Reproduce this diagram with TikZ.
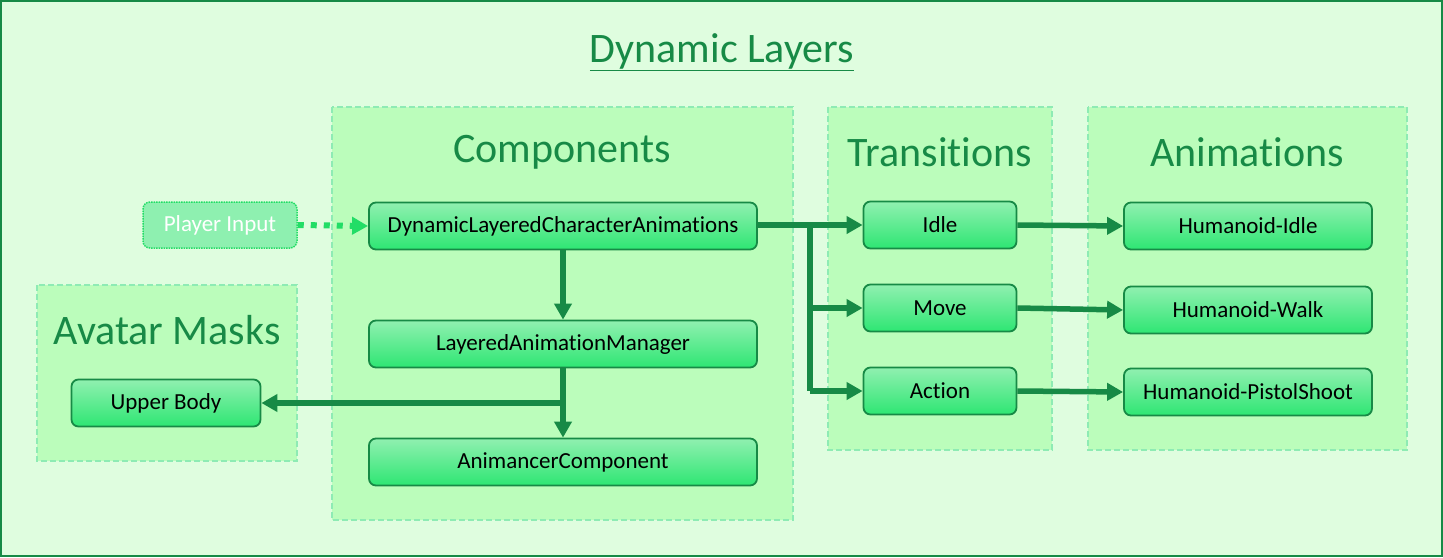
\documentclass[tikz,border=0pt]{standalone}
\usepackage{fontspec}
\setmainfont[Ligatures=NoCommon]{Carlito}
\usetikzlibrary{arrows.meta,calc}
\definecolor{dkgreen}{HTML}{178A46}
\definecolor{bgout}{HTML}{DFFDDF}
\definecolor{grpfill}{HTML}{BBFDBB}
\definecolor{grpline}{HTML}{8EEBB4}
\definecolor{nodetop}{HTML}{90F0B0}
\definecolor{nodebot}{HTML}{2EE673}
\definecolor{inputfill}{HTML}{8EF0B0}
\definecolor{inputline}{HTML}{22DD66}
\tikzset{
  grp/.style={fill=grpfill, draw=grpline, line width=1.6pt, dash pattern=on 6pt off 3pt},
  grptitle/.style={text=dkgreen, font=\fontsize{42}{46}\selectfont, inner sep=0pt},
  box/.style={rounded corners=7pt, draw=dkgreen, line width=1.8pt, top color=nodetop, bottom color=nodebot,
     minimum height=47pt, inner sep=0pt, font=\fontsize{23}{26}\selectfont, text=black},
  conn/.style={draw=dkgreen, line width=5.5pt, -{Triangle[length=16pt,width=17pt]}},
  seg/.style={draw=dkgreen, line width=5.5pt},
}
\begin{document}
\begin{tikzpicture}[x=1pt,y=-1pt]
\useasboundingbox (0,0) rectangle (1443,557);
\draw[fill=bgout, draw=dkgreen, line width=2pt] (1,1) rectangle (1442,556);
\node[text=dkgreen, font=\fontsize{42}{46}\selectfont, inner sep=0pt] (title) at (722,52) {\underline{Dynamic Layers}};
% groups
\draw[grp] (332,107) rectangle (793,520);
\draw[grp] (828,107) rectangle (1052,450);
\draw[grp] (1088,107) rectangle (1407,450);
\draw[grp] (37,285) rectangle (297,461);
\node[grptitle] (gcomp) at (562,152) {Components};
\node[grptitle] (gtrans) at (940,152) {Transitions};
\node[grptitle] (ganim) at (1247,152) {Animations};
\node[grptitle] (gmask) at (167,330) {Avatar Masks};
% nodes
\node[box, minimum width=388pt] (dlca) at (563,226) {DynamicLayeredCharacterAnimations};
\node[box, minimum width=388pt] (lam) at (563,344) {LayeredAnimationManager};
\node[box, minimum width=388pt] (anim) at (563,462) {AnimancerComponent};
\node[box, minimum width=189pt] (upper) at (166,403) {Upper Body};
\node[box, minimum width=153pt] (idle) at (940,225) {Idle};
\node[box, minimum width=153pt] (move) at (940,308) {Move};
\node[box, minimum width=153pt] (action) at (940,391) {Action};
\node[box, minimum width=248pt] (hidle) at (1248,226) {Humanoid-Idle};
\node[box, minimum width=248pt] (hwalk) at (1248,310) {Humanoid-Walk};
\node[box, minimum width=248pt] (hshoot) at (1248,392) {Humanoid-PistolShoot};
\node[rounded corners=7pt, draw=inputline, line width=1.5pt, densely dotted, fill=inputfill,
  minimum width=154pt, minimum height=46pt, inner sep=0pt, text=white, font=\fontsize{23}{26}\selectfont]
  (input) at (220,225) {Player Input};
% connectors
\coordinate (br) at (810,225);
\draw[draw=inputline, line width=6pt, dash pattern=on 6pt off 7pt, -{Triangle[length=16pt,width=17pt]}] (input.east) -- (dlca.west);
\draw[conn] (dlca.east |- idle.west) -- (idle.west);
\draw[seg] (br) -- (br |- action.west);
\draw[conn] (br |- move.west) -- (move.west);
\draw[conn] (br |- action.west) -- (action.west);
\draw[conn] (dlca.south) -- (lam.north);
\draw[conn] (lam.south) -- (anim.north);
\draw[conn] (lam.south |- upper.east) -- (upper.east);
\draw[conn] (idle.east) -- (hidle.west);
\draw[conn] (move.east) -- (hwalk.west);
\draw[conn] (action.east) -- (hshoot.west);
\end{tikzpicture}
\end{document}
